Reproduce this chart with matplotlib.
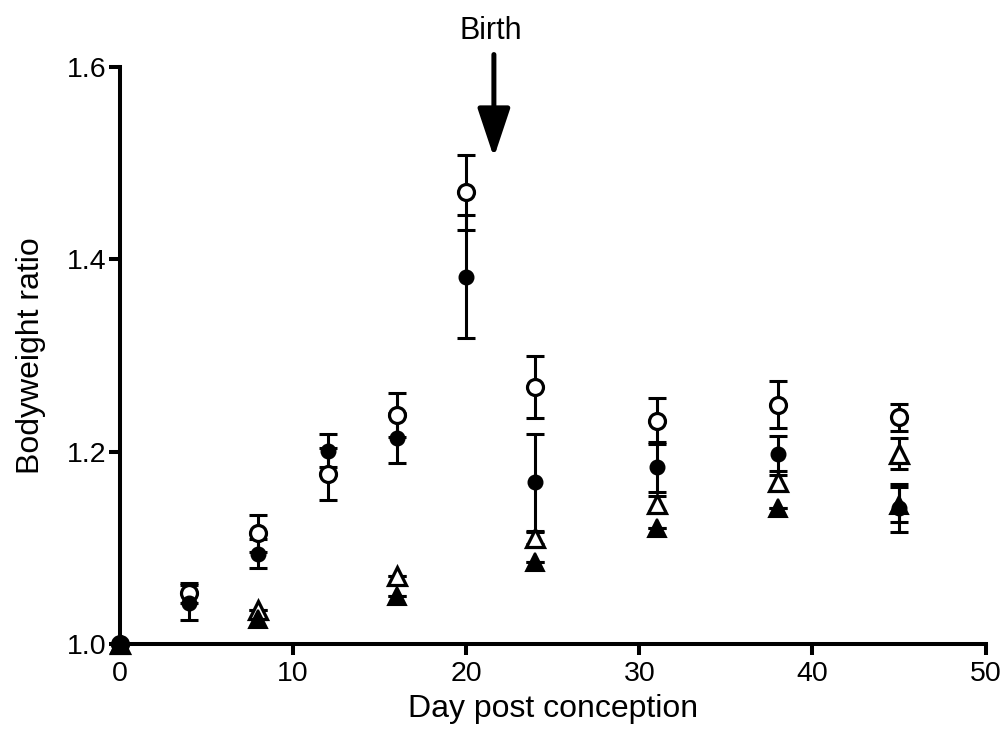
import matplotlib
matplotlib.use("Agg")
import matplotlib.pyplot as plt

plt.rcParams["font.family"] = ["Liberation Sans", "DejaVu Sans"]

# days post conception
days_circ = [0, 4, 8, 12, 16, 20, 24, 31, 38, 45]
days_tri = [0, 8, 16, 24, 31, 38, 45]

# open circles
open_circ = [1.0, 1.053, 1.115, 1.177, 1.238, 1.470, 1.267, 1.232, 1.249, 1.236]
open_circ_err = [0, 0.010, 0.019, 0.027, 0.023, 0.039, 0.032, 0.024, 0.024, 0.014]

# filled circles
fill_circ = [1.0, 1.043, 1.094, 1.201, 1.214, 1.382, 1.168, 1.184, 1.198, 1.141]
fill_circ_err = [0, 0.018, 0.015, 0.017, 0.026, 0.064, 0.050, 0.026, 0.018, 0.025]

# open triangles
open_tri = [1.0, 1.035, 1.071, 1.110, 1.146, 1.168, 1.198]
open_tri_err = [0, 0, 0, 0.006, 0.008, 0.008, 0.016]

# filled triangles
fill_tri = [1.0, 1.026, 1.050, 1.085, 1.121, 1.141, 1.145]
fill_tri_err = [0, 0, 0, 0, 0, 0, 0.018]

birth_day = 21.6

fig = plt.figure(figsize=(10.05, 7.45), dpi=100)
ax = fig.add_axes([0.1194, 0.1356, 0.8612, 0.7744])

eb = dict(fmt="none", ecolor="black", elinewidth=2.2, capsize=6.8, capthick=2.2, clip_on=False, zorder=2)
ax.errorbar(days_circ, open_circ, yerr=open_circ_err, **eb)
ax.errorbar(days_circ, fill_circ, yerr=fill_circ_err, **eb)
ax.errorbar(days_tri, open_tri, yerr=open_tri_err, **eb)
ax.errorbar(days_tri, fill_tri, yerr=fill_tri_err, **eb)

# filled markers sit on top of the open ones
ax.plot(days_circ, open_circ, "o", ms=11.5, mfc="white", mec="black", mew=2.3, ls="none", clip_on=False, zorder=3)
ax.plot(days_tri, open_tri, "^", ms=13, mfc="white", mec="black", mew=2.3, ls="none", clip_on=False, zorder=4)
ax.plot(days_circ, fill_circ, "o", ms=10.5, mfc="black", mec="black", mew=1, ls="none", clip_on=False, zorder=5)
ax.plot(days_tri, fill_tri, "^", ms=12.5, mfc="black", mec="black", mew=1.5, ls="none", clip_on=False, zorder=6)

ax.set_xlim(0, 50)
ax.set_ylim(1.0, 1.6)
ax.set_xticks([0, 10, 20, 30, 40, 50])
ax.set_yticks([1.0, 1.2, 1.4, 1.6])
ax.set_yticklabels(["1.0", "1.2", "1.4", "1.6"])

for s in ["top", "right"]:
    ax.spines[s].set_visible(False)
for s in ["left", "bottom"]:
    ax.spines[s].set_linewidth(2.9)
    ax.spines[s].set_capstyle("projecting")

ax.tick_params(axis="both", width=2.9, length=8, labelsize=20.5, direction="out")
ax.tick_params(axis="y", pad=2)
ax.tick_params(axis="x", pad=4)

ax.set_xlabel("Day post conception", fontsize=23, labelpad=5)
ax.set_ylabel("Bodyweight ratio", fontsize=23, labelpad=15)

ax.annotate("", xy=(birth_day, 1.506), xytext=(birth_day, 1.613),
            arrowprops=dict(arrowstyle="-|>,head_length=3.0,head_width=1.0", lw=3.6, color="black",
                            shrinkA=0, shrinkB=0),
            annotation_clip=False)
ax.text(birth_day - 0.15, 1.622, "Birth", fontsize=22, ha="center", va="bottom")

fig.savefig("out.png", dpi=100)
